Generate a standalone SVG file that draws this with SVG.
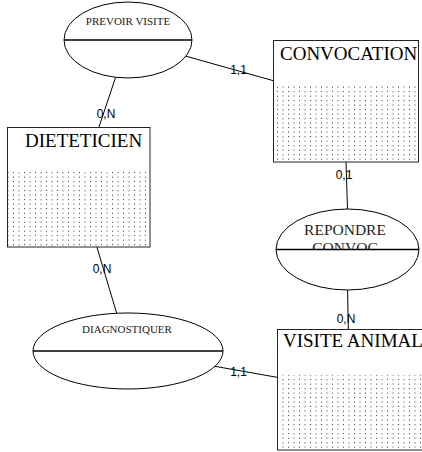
<svg xmlns="http://www.w3.org/2000/svg" width="422" height="452" viewBox="0 0 422 452">
<defs>
<pattern id="dots" patternUnits="userSpaceOnUse" width="11" height="9">
<rect x="2" y="1" width="1" height="1" fill="#444"/>
<rect x="7.5" y="1" width="1" height="1.5" fill="#777"/>
<rect x="2" y="5.5" width="1" height="1.5" fill="#777"/>
<rect x="7.5" y="5.5" width="1" height="1" fill="#444"/>
</pattern>
<clipPath id="repClip"><path d="M276,249.5 A71.5,40.5 0 0 1 419,249.5 Z"/></clipPath>
<style>
.box{fill:#fff;stroke:#222;stroke-width:1}
.dots{fill:url(#dots);stroke:none}
.ent{font-family:"Liberation Serif","Times New Roman",serif;font-size:19px;fill:#000}
.ell{fill:#fff;stroke:#000;stroke-width:1}
.div{stroke:#000;stroke-width:1.3}
.rel{font-family:"Liberation Serif","Times New Roman",serif;font-size:11px;fill:#222;text-anchor:middle}
.relb{font-family:"Liberation Serif","Times New Roman",serif;font-size:15.5px;fill:#222;text-anchor:middle}
.con{stroke:#000;stroke-width:1;fill:none}
.card{font-family:"Liberation Sans",Arial,sans-serif;font-size:12px;fill:#000;text-anchor:middle}
</style>
</defs>
<g id="connectors">
<line class="con" x1="115.6" y1="77.3" x2="99" y2="127"/>
<line class="con" x1="185.9" y1="56.2" x2="273" y2="80.6"/>
<line class="con" x1="96.9" y1="247" x2="116.7" y2="313.3"/>
<line class="con" x1="214.9" y1="366.3" x2="277" y2="377.3"/>
<line class="con" x1="346" y1="162" x2="347.5" y2="209"/>
<line class="con" x1="347.6" y1="290" x2="348.3" y2="329"/>
<text class="card" x="106" y="118">0,N</text>
<text class="card" x="238.5" y="74">1,1</text>
<text class="card" x="102" y="273">0,N</text>
<text class="card" x="238.5" y="376">1,1</text>
<text class="card" x="344" y="179">0,1</text>
<text class="card" x="346" y="323">0,N</text>
</g>
<g id="convocation">
<rect class="box" x="273.5" y="40.5" width="145" height="121.5"/>
<rect class="dots" x="274" y="85" width="144" height="76.5"/>
<text class="ent" x="280" y="60">CONVOCATION</text>
</g>
<g id="dieteticien">
<rect class="box" x="7.5" y="127.5" width="142.5" height="119.5"/>
<rect class="dots" x="8" y="172" width="141.5" height="74.5"/>
<text class="ent" x="25" y="147">DIETETICIEN</text>
</g>
<g id="visite-animal">
<rect class="box" x="277.5" y="329.5" width="147" height="120.5"/>
<rect class="dots" x="278" y="375" width="146" height="74.5"/>
<text class="ent" x="283" y="347">VISITE ANIMAL</text>
</g>
<g id="prevoir-visite">
<ellipse class="ell" cx="128" cy="40" rx="64" ry="38"/>
<line class="div" x1="64" y1="40" x2="192" y2="40"/>
<text class="rel" x="128" y="25">PREVOIR VISITE</text>
</g>
<g id="repondre-convoc">
<ellipse class="ell" cx="347.5" cy="249.5" rx="71.5" ry="40.5"/>
<line class="div" x1="276" y1="249.5" x2="419" y2="249.5"/>
<g clip-path="url(#repClip)">
<text class="relb" x="345" y="235">REPONDRE</text>
<text class="relb" x="345" y="253">CONVOC</text>
</g>
</g>
<g id="diagnostiquer">
<ellipse class="ell" cx="128" cy="351" rx="95" ry="38"/>
<line class="div" x1="33" y1="351" x2="223" y2="351"/>
<text class="rel" x="127" y="333">DIAGNOSTIQUER</text>
</g>
</svg>
